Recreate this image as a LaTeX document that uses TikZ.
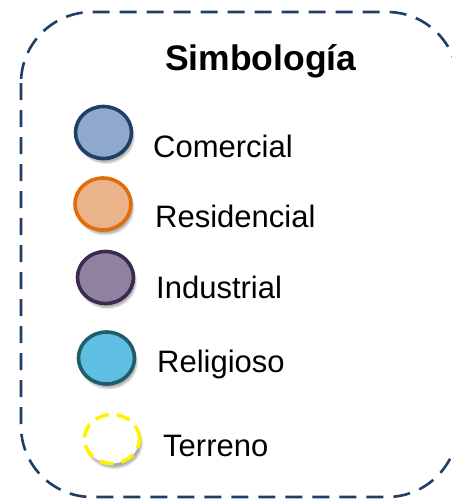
\documentclass[tikz,border=0pt]{standalone}
\usepackage{fontspec}
\setmainfont{Liberation Sans}
\usetikzlibrary{shadows.blur}
\definecolor{navy}{HTML}{1F3F66}
\definecolor{comfill}{HTML}{8EA9CC}
\definecolor{resfill}{HTML}{EBB38A}
\definecolor{resdraw}{HTML}{E36C0A}
\definecolor{indfill}{HTML}{8E82A0}
\definecolor{inddraw}{HTML}{3C2A50}
\definecolor{relfill}{HTML}{5EBFE3}
\definecolor{reldraw}{HTML}{215C6A}
\tikzset{
  legendbox/.style={draw=navy, line width=2.6pt, dash pattern=on 17pt off 10pt, rounded corners=71pt},
  swatch/.style={ellipse, minimum width=56pt, minimum height=52pt, inner sep=0pt, line width=3.6pt,
    blur shadow={shadow xshift=2pt, shadow yshift=-4pt, shadow blur steps=6, shadow opacity=35}},
  lbl/.style={anchor=base west, inner sep=0pt, font=\fontsize{31}{36}\selectfont},
}
\usetikzlibrary{shapes.geometric}
\begin{document}
\begin{tikzpicture}[x=1pt,y=-1pt]
\useasboundingbox (0,0) rectangle (452,501);
\draw[legendbox] (21,12) rectangle (458,497);
\node[anchor=base west, inner sep=0pt, font=\bfseries\fontsize{35.5}{40}\selectfont] (title) at (165,70) {Simbología};
\node[swatch, fill=comfill, draw=navy] (com) at (103.5,132.5) {};
\node[lbl] (comt) at (153,157) {Comercial};
\node[swatch, fill=resfill, draw=resdraw] (res) at (103,204) {};
\node[lbl] (rest) at (155,227) {Residencial};
\node[swatch, fill=indfill, draw=inddraw] (ind) at (105.5,277.5) {};
\node[lbl] (indt) at (156,298) {Industrial};
\node[swatch, fill=relfill, draw=reldraw] (rel) at (106.5,358) {};
\node[lbl] (relt) at (157,372) {Religioso};
\node[ellipse, minimum width=55pt, minimum height=49pt, inner sep=0pt, line width=3.6pt, draw=yellow, fill=white,
  dash pattern=on 14pt off 8pt,
  blur shadow={shadow xshift=2pt, shadow yshift=-4pt, shadow blur steps=6, shadow opacity=35}] (ter) at (112,439) {};
\node[lbl] (tert) at (163,456) {Terreno};
\end{tikzpicture}
\end{document}
